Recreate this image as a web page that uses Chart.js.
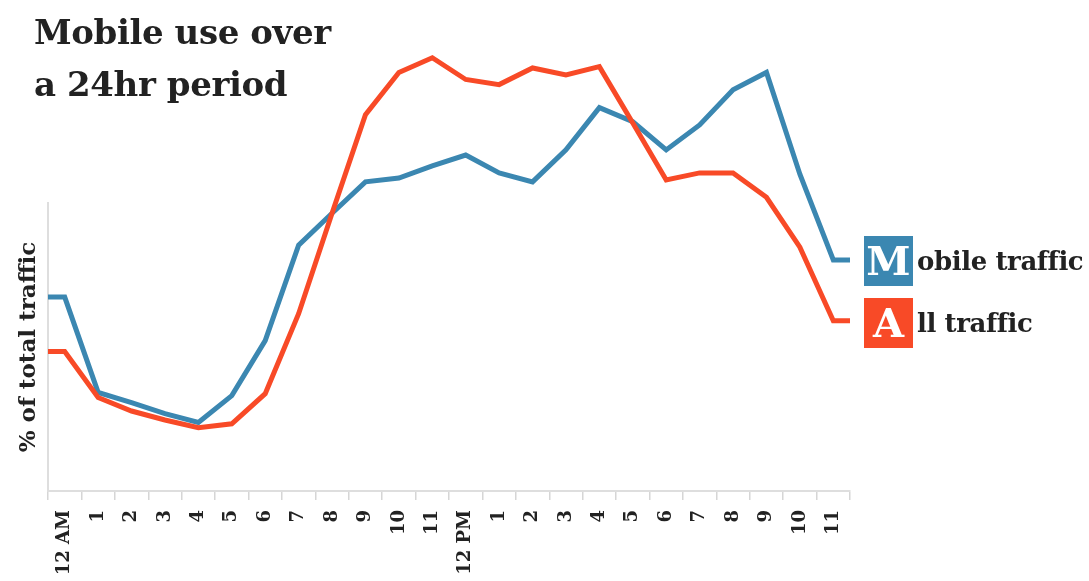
<!DOCTYPE html>
<html>
<head>
<meta charset="utf-8">
<script src="https://cdn.jsdelivr.net/npm/chart.js@4"></script>
<style>
  html, body { margin: 0; padding: 0; background: #fff; }
  #wrap { position: relative; width: 1089px; height: 581px; overflow: hidden; }
  canvas { position: absolute; left: 0; top: 0; }
  .title {
    position: absolute; left: 34px; top: 6px;
    font: bold 34px/52px "DejaVu Serif", serif; letter-spacing: -0.4px;
    color: #222;
  }
  .key { position: absolute; left: 864px; height: 50px; display: flex; align-items: center; }
  .key .box {
    width: 49px; height: 50px; color: #fff; text-align: center;
    font: bold 40px/50px "DejaVu Serif", serif;
  }
  .key .txt {
    margin-left: 4px; color: #222;
    font: bold 26px "DejaVu Serif", serif; letter-spacing: -0.4px;
  }
</style>
</head>
<body>
<div id="wrap">
  <canvas id="chart" width="1089" height="581"></canvas>
  <div class="title">Mobile use over<br>a 24hr period</div>
  <div class="key" style="top:236px"><div class="box" style="background:#3b87b1">M</div><div class="txt">obile traffic</div></div>
  <div class="key" style="top:298px"><div class="box" style="background:#f84a27">A</div><div class="txt">ll traffic</div></div>
</div>
<script>
  // -----------------------------
  // data (% of total traffic per hour)
  // -----------------------------
  const hours = ["12 AM","1","2","3","4","5","6","7","8","9","10","11",
                 "12 PM","1","2","3","4","5","6","7","8","9","10","11"];

  const mobileTraffic = [3.03, 1.54, 1.38, 1.21, 1.07, 1.49, 2.35, 3.84, 4.34, 4.83, 4.89, 5.08,
                         5.25, 4.97, 4.83, 5.33, 5.99, 5.77, 5.33, 5.72, 6.27, 6.54, 4.95, 3.61];

  const allTraffic = [2.18, 1.46, 1.25, 1.11, 0.99, 1.05, 1.52, 2.77, 4.34, 5.88, 6.54, 6.77,
                      6.43, 6.35, 6.61, 6.50, 6.63, 5.75, 4.86, 4.97, 4.97, 4.59, 3.81, 2.66];

  const BLUE = "#3b87b1";
  const RED = "#f84a27";

  // line runs flat out to both edges of the plot
  function toPoints(values) {
    const pts = values.map((v, i) => ({ x: i, y: v }));
    pts.unshift({ x: -0.5, y: values[0] });
    pts.push({ x: values.length - 0.5, y: values[values.length - 1] });
    return pts;
  }

  const serif = "'DejaVu Serif', serif";

  new Chart(document.getElementById("chart").getContext("2d"), {
    type: "line",
    data: {
      labels: hours,
      datasets: [
        {
          label: "All traffic",
          data: toPoints(allTraffic),
          xAxisID: "xl",
          borderColor: RED,
          borderWidth: 5,
          pointRadius: 0,
          clip: false
        },
        {
          label: "Mobile traffic",
          data: toPoints(mobileTraffic),
          xAxisID: "xl",
          borderColor: BLUE,
          borderWidth: 5,
          pointRadius: 0,
          clip: false
        }
      ]
    },
    options: {
      responsive: false,
      animation: false,
      devicePixelRatio: 1,
      layout: { padding: { top: 203, right: 239, left: 0, bottom: 0 } },
      plugins: { legend: { display: false }, tooltip: { enabled: false } },
      scales: {
        x: {
          type: "category",
          offset: true,
          afterFit: s => { s.height = 90; },
          grid: { drawOnChartArea: false, offset: true, tickLength: 9, color: "#d6d6d6", lineWidth: 1.5 },
          border: { color: "#dedede", width: 2 },
          ticks: {
            autoSkip: false, maxRotation: 90, minRotation: 90, padding: 10,
            color: "#222", font: { family: serif, size: 18, weight: "bold" }
          }
        },
        xl: {
          type: "linear",
          display: false,
          min: -0.5,
          max: hours.length - 0.5
        },
        y: {
          min: 0,
          max: 4.5,
          afterFit: s => { s.width = 48; },
          grid: { drawOnChartArea: false, drawTicks: false },
          border: { color: "#dedede", width: 2 },
          ticks: { display: false },
          title: {
            display: true,
            text: "% of total traffic",
            color: "#222",
            padding: { top: 15, bottom: 0 },
            font: { family: serif, size: 23, weight: "bold" }
          }
        }
      }
    }
  });
</script>
</body>
</html>
